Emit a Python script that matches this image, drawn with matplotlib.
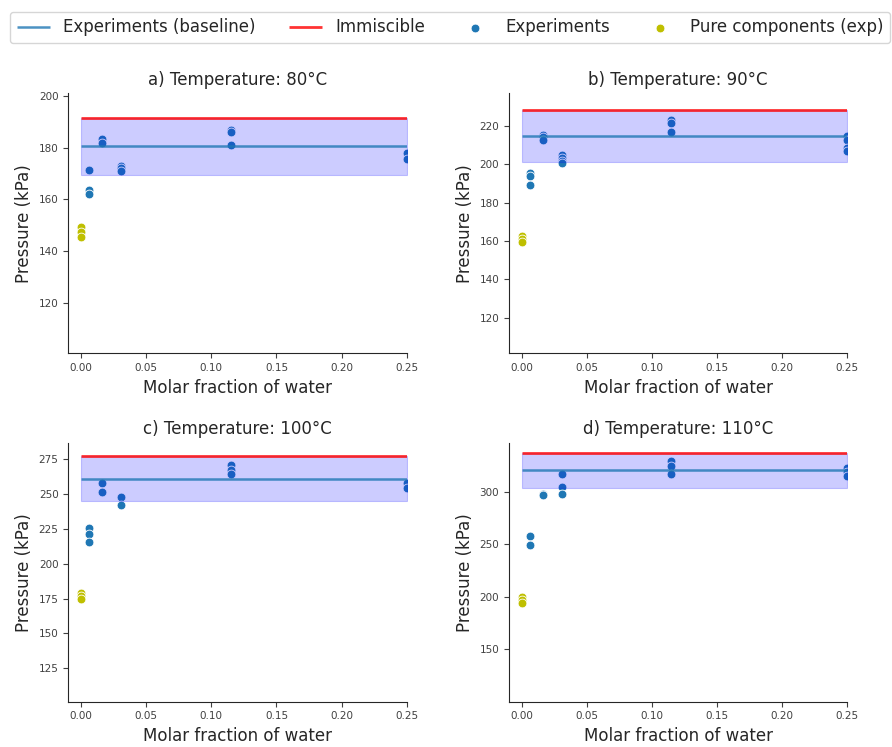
import numpy as np
import matplotlib
matplotlib.use("Agg")
import matplotlib.pyplot as plt
import seaborn as sns

sns.set_style("ticks")
plt.rcParams['font.family'] = ['DejaVu Sans']

# ---- data ----
titles = ['a) Temperature: 80°C', 'b) Temperature: 90°C',
          'c) Temperature: 100°C', 'd) Temperature: 110°C']

# experiments (x = molar fraction of water, p = pressure in kPa)
x_a = [0.0064, 0.0064, 0.0064, 0.016, 0.016, 0.031, 0.031, 0.031,
       0.115, 0.115, 0.115, 0.25, 0.25]
p_a = [171.3, 163.7, 162.0, 183.2, 181.9, 172.9, 172.3, 171.0,
       186.6, 186.1, 180.8, 177.8, 175.5]

x_b = [0.0064, 0.0064, 0.0064, 0.016, 0.016, 0.016, 0.031, 0.031, 0.031, 0.031,
       0.115, 0.115, 0.115, 0.25, 0.25, 0.25, 0.25]
p_b = [195.3, 193.8, 189.2, 215.6, 214.4, 213.0, 204.9, 203.5, 202.0, 200.9,
       223.5, 221.7, 217.2, 214.9, 212.7, 208.8, 206.9]

x_c = [0.0064, 0.0064, 0.0064, 0.016, 0.016, 0.031, 0.031,
       0.115, 0.115, 0.115, 0.25, 0.25]
p_c = [225.4, 221.3, 215.4, 257.8, 251.5, 247.7, 242.4,
       270.9, 267.3, 264.2, 257.8, 254.2]

x_d = [0.0064, 0.0064, 0.016, 0.016, 0.031, 0.031, 0.031,
       0.115, 0.115, 0.115, 0.25, 0.25, 0.25]
p_d = [257.5, 249.2, 297.5, 296.8, 316.9, 304.8, 298.1,
       329.2, 324.8, 316.9, 322.9, 319.0, 315.2]

# pure components (x = 0)
pure_a = [149.3, 147.6, 145.6]
pure_b = [162.7, 161.2, 159.5]
pure_c = [179.0, 177.0, 174.8]
pure_d = [200.0, 197.0, 194.0]

baseline = [180.7, 214.8, 261.1, 320.7]
immiscible = [191.3, 228.4, 277.4, 336.6]
band_low = [169.6, 201.2, 245.2, 303.8]

ylims = [(100.7, 200.9), (101.3, 237.2), (101.0, 286.9), (100.1, 346.7)]

xs = [x_a, x_b, x_c, x_d]
ps = [p_a, p_b, p_c, p_d]
pures = [pure_a, pure_b, pure_c, pure_d]

# ---- figure ----
fig = plt.figure(figsize=(8.92, 7.47), dpi=100)
W, H = 892, 747
boxes = [(68.3, 93.3, 406.7, 353.3), (509, 93.3, 847, 353.3),
         (68.3, 442.7, 406.7, 701.7), (509, 442.7, 847, 701.7)]

for i in range(4):
    x0, y0, x1, y1 = boxes[i]
    ax = fig.add_axes([x0 / W, 1 - y1 / H, (x1 - x0) / W, (y1 - y0) / H])
    ax.hlines(baseline[i], 0, 0.25, color='tab:blue', alpha=0.8, lw=1.8,
              label='Experiments (baseline)', zorder=4)
    ax.hlines(immiscible[i], 0, 0.25, color='red', alpha=0.8, lw=2,
              label='Immiscible', zorder=4)
    ax.scatter(xs[i], ps[i], s=40, color='tab:blue', edgecolor='white',
               linewidth=0.6, label='Experiments', zorder=2)
    ax.scatter([0] * len(pures[i]), pures[i], s=40, color='y', edgecolor='white',
               linewidth=0.6, label='Pure components (exp)', zorder=2)
    ax.fill_between([0, 0.25], band_low[i], immiscible[i], color='blue',
                    alpha=0.2, lw=0.8, zorder=3)
    ax.set_xlim(-0.0098, 0.25)
    ax.set_ylim(*ylims[i])
    ax.set_xticks([0, 0.05, 0.1, 0.15, 0.2, 0.25])
    ax.set_title(titles[i], fontsize=12, color='.15')
    ax.set_xlabel('Molar fraction of water', fontsize=12, color='.15')
    ax.set_ylabel('Pressure (kPa)', fontsize=12, color='.15')
    ax.tick_params(labelsize=7.5, colors='.25')
    sns.despine(ax=ax)
    if i == 0:
        handles, labels = ax.get_legend_handles_labels()

fig.legend(handles, labels, loc='lower left', ncol=4, mode='expand',
           bbox_to_anchor=(10 / W, 1 - 43 / H, 880 / W, 31 / H),
           fontsize=12, frameon=True, borderaxespad=0)

fig.savefig('out.png', dpi=100)
